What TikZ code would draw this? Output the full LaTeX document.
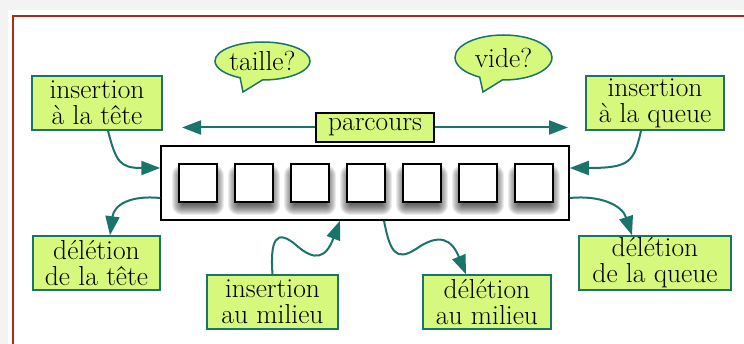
\documentclass[tikz,border=0pt]{standalone}
\usetikzlibrary{arrows.meta,shapes.callouts,calc}
\definecolor{bgrey}{RGB}{243,243,243}
\definecolor{framered}{RGB}{175,40,30}
\definecolor{lgreen}{RGB}{214,248,124}
\definecolor{tealc}{RGB}{26,116,106}
\begin{document}
\begin{tikzpicture}[x=1pt,y=-1pt,
  every node/.style={font=\fontsize{27.5}{26}\selectfont, inner sep=0pt},
  opbox/.style={draw=tealc, line width=1.5pt, fill=lgreen, align=center, minimum height=54pt},
  bubble/.style={ellipse callout, draw=tealc, line width=1.5pt, fill=lgreen, callout pointer arc=28},
  cell/.style={draw=black, line width=1.7pt, fill=white, minimum width=38pt, minimum height=38pt},
  conn/.style={draw=tealc, line width=2pt, -{Triangle[length=19pt,width=14pt]}}
]
\useasboundingbox (0,0) rectangle (744,344);
\fill[bgrey] (0,0) rectangle (744,344);
\fill[white] (8,10) rectangle (744,344);
\draw[framered, line width=1.8pt] (13,350) -- (13,16) -- (750,16);

% container
\node[draw=black, line width=1.5pt, fill=white, minimum width=408pt, minimum height=74pt] (ct) at (365,183) {};
% soft shadows under the cells
\foreach \i in {0,...,6}{
  \foreach \r in {0,...,10}{
    \pgfmathsetmacro\xx{198+56*\i}
    \fill[black, opacity=0.075, rounded corners=\r pt] (\xx-16-\r,175-\r) rectangle (\xx+16+\r,205+\r);
  }
}
\foreach \i in {0,...,6} {
  \node[cell] (c\i) at (198+56*\i,183) {};
}

% boxes
\node[opbox, minimum width=130pt] (it) at (97,103) {insertion\\à la tête};
\node[opbox, minimum width=138pt] (iq) at (655,103) {insertion\\à la queue};
\node[opbox, minimum width=127pt] (dt) at (96.5,263) {délétion\\de la tête};
\node[opbox, minimum width=152pt] (dq) at (655,263) {délétion\\de la queue};
\node[opbox, minimum width=131pt] (im) at (272.5,302) {insertion\\au milieu};
\node[opbox, minimum width=128pt] (dm) at (487,302) {délétion\\au milieu};
\node[draw=black, line width=1.7pt, fill=lgreen, minimum width=118pt, minimum height=29pt] (pc) at (375,127.5) {parcours};

% bubbles
\node[bubble, minimum width=95pt, minimum height=38pt, callout absolute pointer={(243,92)}] (ta) at (262.5,61) {taille?};
\node[bubble, minimum width=97pt, minimum height=45pt, callout absolute pointer={(483,92)}] (vi) at (503.5,57.5) {vide?};

% parcours arrows
\coordinate (pl) at (182,127.5);
\coordinate (pr) at (568,127.5);
\draw[conn] (pc.west) -- (pl);
\draw[conn] (pc.east) -- (pr);

% connectors
\draw[conn] ([xshift=11pt]it.south) .. controls (116,162) and (120,168) .. ([yshift=15pt]ct.west);
\draw[conn] ([xshift=-14pt]iq.south) .. controls (634,162) and (630,168) .. ([yshift=15pt]ct.east);
\draw[conn] ([yshift=-15pt]ct.west) .. controls (130,195) and (114,205) .. ([xshift=13.5pt]dt.north);
\draw[conn] ([yshift=-15pt]ct.east) .. controls (600,195) and (622,205) .. ([xshift=-23pt]dq.north);
\draw[conn] (im.north) .. controls (270,240) and (276,228) .. (296,245) .. controls (315,262) and (326,258) .. ([xshift=-25pt]ct.south);
\draw[conn] ([xshift=19pt]ct.south) .. controls (390,252) and (396,262) .. (416,249) .. controls (440,232) and (452,240) .. ([xshift=-21pt]dm.north);
\end{tikzpicture}
\end{document}
